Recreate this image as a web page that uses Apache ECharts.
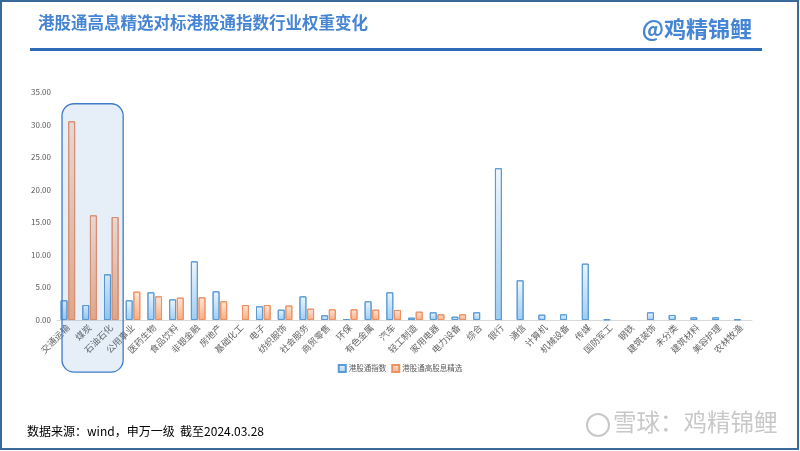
<!DOCTYPE html>
<html><head><meta charset="utf-8">
<script src="https://cdn.jsdelivr.net/npm/echarts@6/dist/echarts.min.js"></script>
<style>html,body{margin:0;padding:0;background:#fff;}#c{width:800px;height:451px;}</style>
</head><body><div id="c"></div>
<script>
const categories = ['交通运输','煤炭','石油石化','公用事业','医药生物','食品饮料','非银金融','房地产','基础化工','电子','纺织服饰','社会服务','商贸零售','环保','有色金属','汽车','轻工制造','家用电器','电力设备','综合','银行','通信','计算机','机械设备','传媒','国防军工','钢铁','建筑装饰','未分类','建筑材料','美容护理','农林牧渔'];
const indexWeights = [3.02,2.3,7.01,3.02,4.25,3.17,9.0,4.4,null,2.1,1.59,3.63,0.72,0.15,2.87,4.25,0.36,1.18,0.51,1.18,23.3,6.09,0.82,0.87,8.65,0.1,null,1.18,0.77,0.41,0.41,0.1];
const selectWeights = [30.5,16.07,15.81,4.35,3.63,3.43,3.48,2.87,2.3,2.3,2.22,1.74,1.64,1.64,1.59,1.54,1.28,0.87,0.87,null,null,null,null,null,null,null,null,null,null,null,null,null];
const yTicks = [0,5,10,15,20,25,30,35];
const seriesNames = ['港股通指数','港股通高股息精选'];

const FONT = '"Noto Sans CJK SC","Noto Sans",sans-serif';
const chart = echarts.init(document.getElementById('c'), null, {renderer:'canvas'});
const blueGrad = new echarts.graphic.LinearGradient(0,0,0,1,[{offset:0,color:'#eef6fd'},{offset:1,color:'#9fcdf3'}]);
const orangeGrad = new echarts.graphic.LinearGradient(0,0,0,1,[{offset:0,color:'#fde7da'},{offset:1,color:'#f6ad83'}]);
const option = {
  backgroundColor:'#fff',
  animation:false,
  textStyle:{fontFamily:FONT},
  grid:{left:57,right:48,top:92,bottom:131,containLabel:false},
  legend:{
    data:seriesNames, left:'center', top:359, itemWidth:7, itemHeight:7, itemGap:5,
    icon:'rect',
    textStyle:{fontSize:7.5,color:'#595959',fontFamily:FONT,padding:[0,0,0,-2]}
  },
  xAxis:{
    type:'category', data:categories,
    axisLine:{lineStyle:{color:'#d9d9d9'}},
    axisTick:{show:false},
    axisLabel:{rotate:45,fontSize:9,color:'#666666',interval:0,margin:6,fontFamily:FONT}
  },
  yAxis:{
    type:'value', min:yTicks[0], max:yTicks[yTicks.length-1], interval:5,
    splitLine:{show:false},
    axisLine:{show:false}, axisTick:{show:false},
    axisLabel:{fontSize:8,color:'#595959',formatter:v=>v.toFixed(2),margin:6,fontFamily:FONT}
  },
  series:[
    {name:seriesNames[0],type:'bar',data:indexWeights,barWidth:'32%',barGap:'10%',
     itemStyle:{color:blueGrad,borderColor:'#5b9bd5',borderWidth:1}},
    {name:seriesNames[1],type:'bar',data:selectWeights,barWidth:'32%',
     itemStyle:{color:orangeGrad,borderColor:'#ee9060',borderWidth:1}}
  ],
  graphic:[
    {type:'rect',shape:{x:1,y:1,width:797,height:448},style:{fill:'none',stroke:'#3a6a9a',lineWidth:2},z:200,silent:true},
    {type:'text',left:38,top:14,style:{text:'港股通高息精选对标港股通指数行业权重变化',fill:'#4585d3',font:'bold 16.5px '+FONT,shadowColor:'rgba(0,0,0,0.25)',shadowBlur:2,shadowOffsetX:1,shadowOffsetY:1}},
    {type:'text',right:48,top:18,style:{text:'@鸡精锦鲤',fill:'#4585d3',font:'bold 22px '+FONT,shadowColor:'rgba(0,0,0,0.25)',shadowBlur:2,shadowOffsetX:1,shadowOffsetY:1}},
    {type:'rect',shape:{x:30,y:48,width:732,height:3},style:{fill:'#2e6bb8'}},
    {type:'text',left:27,top:425,style:{text:'数据来源：wind，申万一级  截至2024.03.28',fill:'#000',font:'12px '+FONT}},
    {type:'circle',shape:{cx:598,cy:425,r:11},style:{fill:'none',stroke:'#c8c8c8',lineWidth:2}},
    {type:'text',left:613,top:410,style:{text:'雪球：鸡精锦鲤',fill:'#c8c8c8',font:'23.5px '+FONT}}
  ]
};
chart.setOption(option);
// highlight box around the first three categories
const c0 = chart.convertToPixel({xAxisIndex:0}, categories[0]);
const c1 = chart.convertToPixel({xAxisIndex:0}, categories[1]);
const c2 = chart.convertToPixel({xAxisIndex:0}, categories[2]);
const bw = c1 - c0;
const yTop = chart.convertToPixel({yAxisIndex:0}, 33.2);
const yBot = chart.convertToPixel({yAxisIndex:0}, -8);
const gr = option.graphic.slice();
gr.push({type:'rect',shape:{x:c0-bw/2+5,y:yTop,width:(c2+bw/2+1)-(c0-bw/2+5),height:yBot-yTop,r:12},
  style:{fill:'rgba(61,124,201,0.13)',stroke:'#3d7cc9',lineWidth:1.3},z:100,silent:true});
chart.setOption({graphic:gr});
</script></body></html>
